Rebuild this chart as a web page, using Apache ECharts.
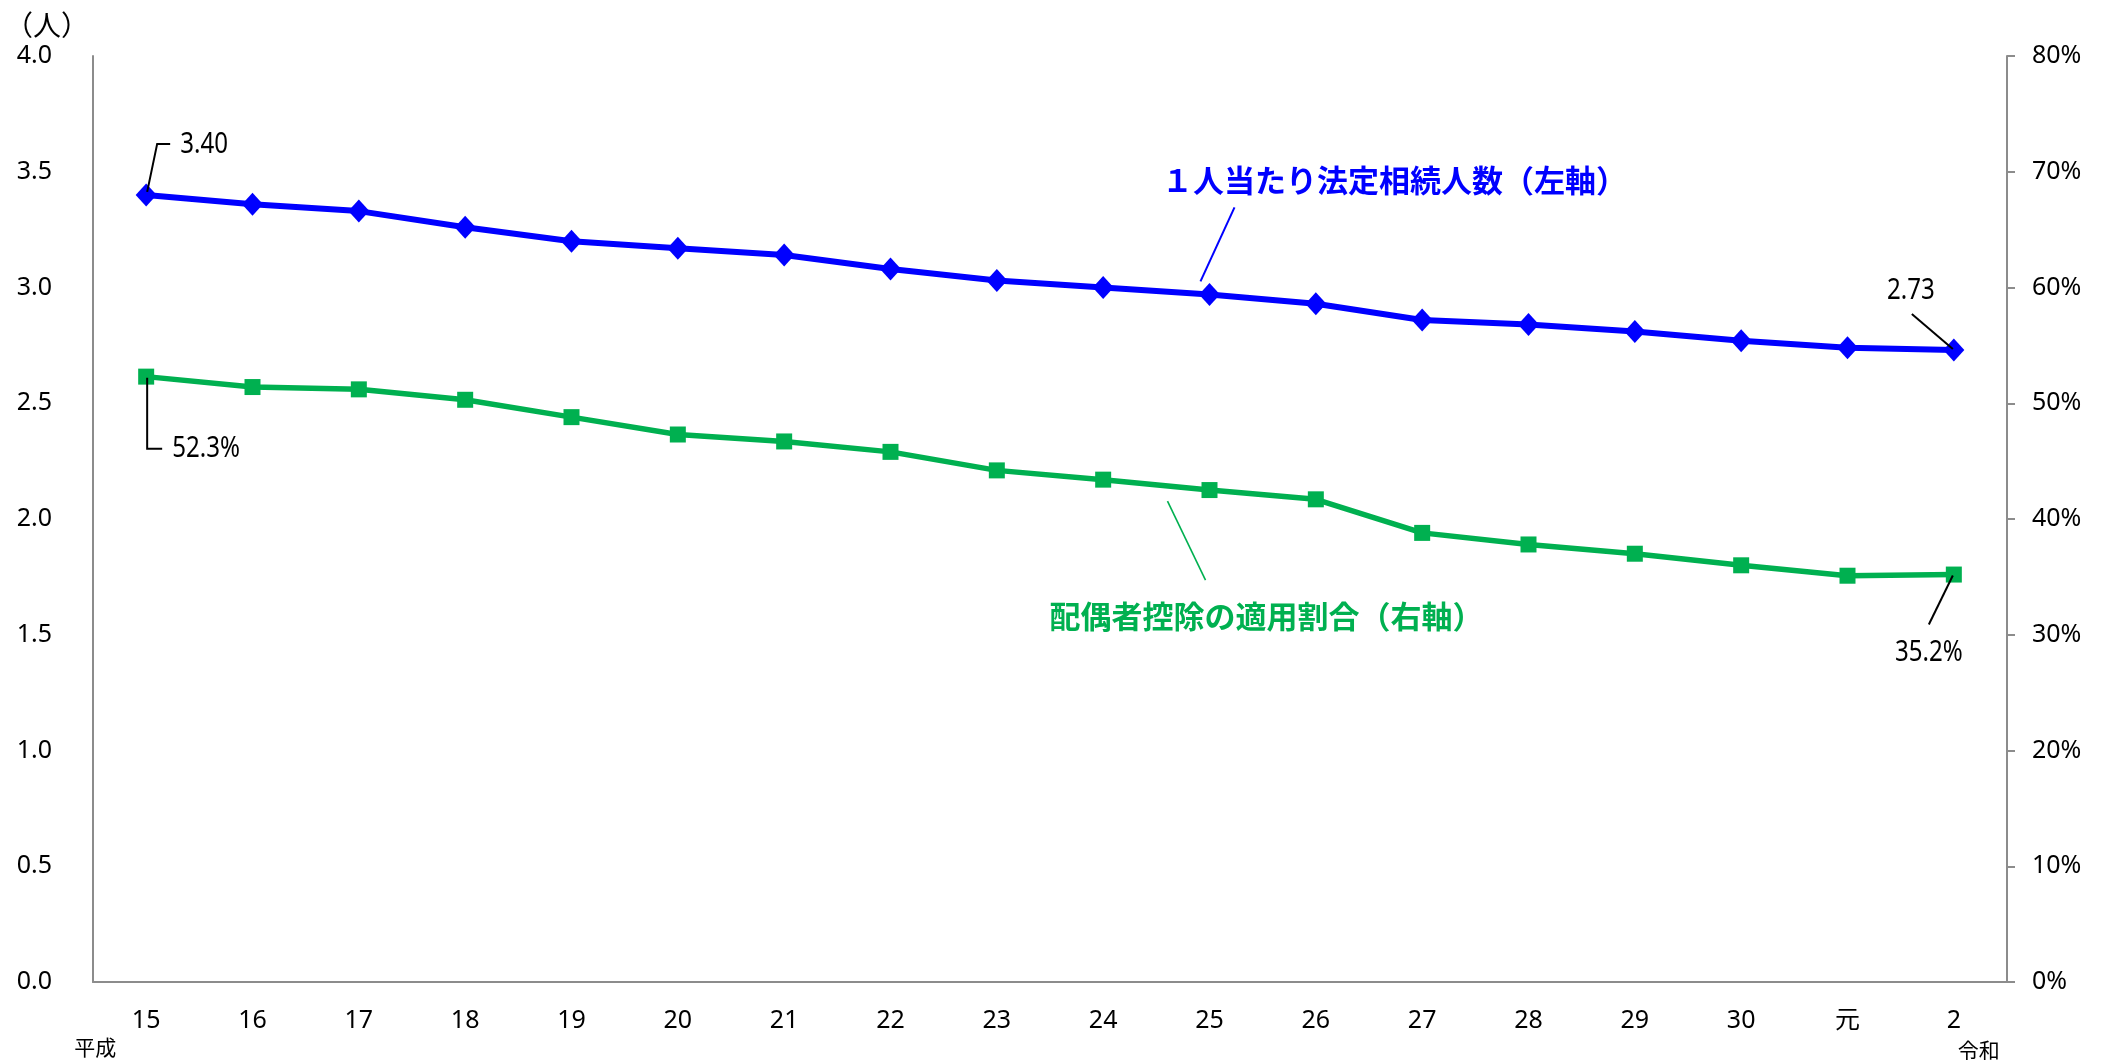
<!DOCTYPE html>
<html>
<head>
<meta charset="utf-8">
<style>
  html, body { margin: 0; padding: 0; background: #fff; }
  #chart { width: 2101px; height: 1060px; }
</style>
<script src="https://cdn.jsdelivr.net/npm/echarts@6/dist/echarts.min.js"></script>
</head>
<body>
<div id="chart"></div>
<script>
// 年分（平成15年〜令和2年）
const categories = ['15','16','17','18','19','20','21','22','23','24','25','26','27','28','29','30','元','2'];
// １人当たり法定相続人数（人）
const heirsPerPerson = [3.40,3.36,3.33,3.26,3.20,3.17,3.14,3.08,3.03,3.00,2.97,2.93,2.86,2.84,2.81,2.77,2.74,2.73];
// 配偶者控除の適用割合（％）
const spouseRate = [52.3,51.4,51.2,50.3,48.8,47.3,46.7,45.8,44.2,43.4,42.5,41.7,38.8,37.8,37.0,36.0,35.1,35.2];
// 軸の目盛り
const leftAxisRange = [0, 4.0, 0.5];
const rightAxisRange = [0, 80, 10];

const BLUE = '#0000FF';
const GREEN = '#00B050';
const AXIS_GRAY = '#8c8c8c';
const baseFont = '"Noto Sans", "Noto Sans CJK JP", sans-serif';
const numFont = '"Noto Sans", sans-serif';
const cjkFont = '"Noto Sans CJK JP", sans-serif';

const chart = echarts.init(document.getElementById('chart'), null, { renderer: 'canvas' });

chart.setOption({
  animation: false,
  backgroundColor: '#ffffff',
  grid: { left: 93, right: 94, top: 56, bottom: 78, containLabel: false },
  xAxis: {
    type: 'category',
    data: categories,
    boundaryGap: true,
    axisLine: { show: true, lineStyle: { color: AXIS_GRAY, width: 2 } },
    axisTick: { show: false },
    axisLabel: { color: '#000', fontSize: 25, fontFamily: baseFont, margin: 26 },
    splitLine: { show: false }
  },
  yAxis: [
    {
      type: 'value',
      position: 'left',
      min: leftAxisRange[0], max: leftAxisRange[1], interval: leftAxisRange[2],
      axisLine: { show: true, lineStyle: { color: AXIS_GRAY, width: 2 } },
      axisTick: { show: false },
      splitLine: { show: false },
      axisLabel: { color: '#000', fontSize: 25, fontFamily: baseFont, margin: 41,
        formatter: v => v.toFixed(1) }
    },
    {
      type: 'value',
      position: 'right',
      min: rightAxisRange[0], max: rightAxisRange[1], interval: rightAxisRange[2],
      axisLine: { show: true, lineStyle: { color: AXIS_GRAY, width: 2 } },
      axisTick: { show: true, inside: false, length: 8, lineStyle: { color: AXIS_GRAY, width: 2 } },
      splitLine: { show: false },
      axisLabel: { color: '#000', fontSize: 25, fontFamily: baseFont, margin: 25,
        formatter: '{value}%' }
    }
  ],
  series: [
    {
      name: '１人当たり法定相続人数',
      type: 'line',
      yAxisIndex: 0,
      data: heirsPerPerson,
      symbol: 'diamond',
      symbolSize: [21, 23],
      lineStyle: { color: BLUE, width: 6 },
      itemStyle: { color: BLUE },
      z: 3
    },
    {
      name: '配偶者控除の適用割合',
      type: 'line',
      yAxisIndex: 1,
      data: spouseRate,
      symbol: 'rect',
      symbolSize: 16,
      lineStyle: { color: GREEN, width: 5.5 },
      itemStyle: { color: GREEN },
      z: 3
    }
  ]
});

// ---- 注記（値ラベル・系列名・年号）をデータ点の座標から配置 ----
function ptL(i) { return chart.convertToPixel({ xAxisIndex: 0, yAxisIndex: 0 }, [i, heirsPerPerson[i]]); }
function ptR(i) { return chart.convertToPixel({ xAxisIndex: 0, yAxisIndex: 1 }, [i, spouseRate[i]]); }

function leader(points, color, width) {
  return { type: 'polyline', shape: { points: points }, style: { stroke: color, lineWidth: width, fill: null }, z: 10 };
}
function label(x, y, text, font, color, align, sx) {
  return {
    type: 'text', x: x, y: y, z: 11,
    scaleX: sx || 1,
    style: { text: text, font: font, fill: color,
      align: align, verticalAlign: 'middle',
      textAlign: align, textVerticalAlign: 'middle' }
  };
}

const last = categories.length - 1;
const b0 = ptL(0), bN = ptL(last), g0 = ptR(0), gN = ptR(last);
const bMid = ptL(10), gMid = ptR(10);
const origin = chart.convertToPixel({ xAxisIndex: 0, yAxisIndex: 0 }, [0, 0]);
const axisTop = chart.convertToPixel({ xAxisIndex: 0, yAxisIndex: 0 }, [0, leftAxisRange[1]]);
const leftX = chart.getModel().getComponent('grid').coordinateSystem.getRect().x;
const bottomY = origin[1];

// 値ラベルは幅を詰めた数字で表示
const numStyle = '29px ' + numFont;
const NARROW = 0.83;
const nameStyle = 'bold 31px ' + cjkFont;

const elements = [
  // 先頭・末尾の値
  leader([[b0[0] + 1, b0[1] - 3], [b0[0] + 11, b0[1] - 51], [b0[0] + 24, b0[1] - 51]], '#000', 2),
  label(b0[0] + 34, b0[1] - 50, heirsPerPerson[0].toFixed(2), numStyle, '#000', 'left', NARROW),
  leader([[bN[0] - 42, bN[1] - 36], [bN[0] - 1, bN[1] - 1]], '#000', 2),
  label(bN[0] - 43, bN[1] - 59, heirsPerPerson[last].toFixed(2), numStyle, '#000', 'center', NARROW),
  leader([[g0[0] + 1, g0[1] + 1], [g0[0] + 1, g0[1] + 72], [g0[0] + 16, g0[1] + 72]], '#000', 2),
  label(g0[0] + 26, g0[1] + 72, spouseRate[0].toFixed(1) + '%', numStyle, '#000', 'left', NARROW),
  leader([[gN[0] - 1, gN[1] + 1], [gN[0] - 25, gN[1] + 50]], '#000', 2),
  label(gN[0] - 25, gN[1] + 78, spouseRate[last].toFixed(1) + '%', numStyle, '#000', 'center', NARROW),

  // 系列名
  leader([[bMid[0] + 25, bMid[1] - 87], [bMid[0] - 9, bMid[1] - 13]], BLUE, 2),
  label(bMid[0] + 185, bMid[1] - 114, '１人当たり法定相続人数（左軸）', nameStyle, BLUE, 'center'),
  leader([[gMid[0] - 42, gMid[1] + 11], [gMid[0] - 4, gMid[1] + 90]], GREEN, 1.6),
  label(gMid[0] + 57, gMid[1] + 126, '配偶者控除の適用割合（右軸）', nameStyle, GREEN, 'center'),

  // 単位・年号
  label(leftX - 46, axisTop[1] - 31, '（人）', '28px ' + cjkFont, '#000', 'center'),
  label(b0[0] - 51, bottomY + 65, '平成', '21px ' + cjkFont, '#000', 'center'),
  label(bN[0] + 25, bottomY + 68, '令和', '21px ' + cjkFont, '#000', 'center')
];

chart.setOption({ graphic: { elements: elements } });
</script>
</body>
</html>
